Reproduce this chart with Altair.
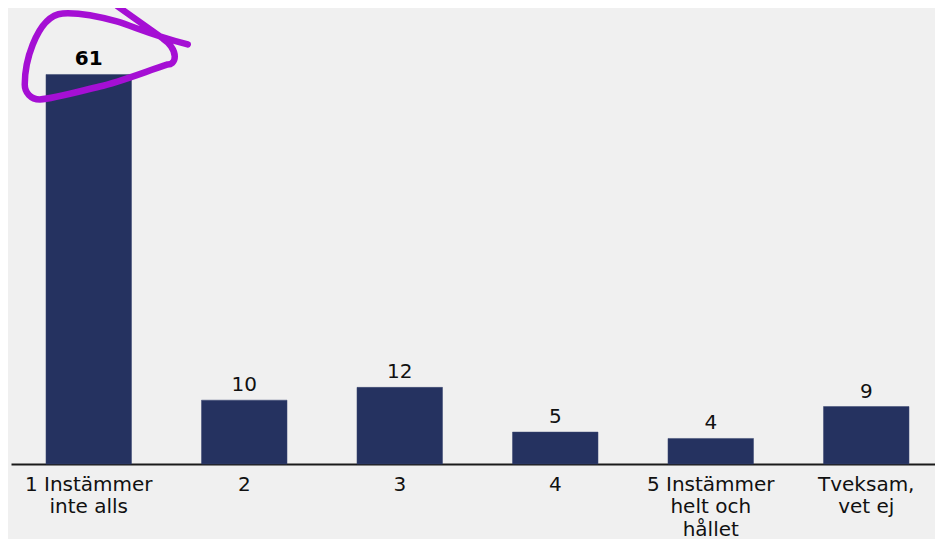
import altair as alt
import pandas as pd

categories = ["1 Instämmer\ninte alls", "2", "3", "4", "5 Instämmer\nhelt och\nhållet", "Tveksam,\nvet ej"]
values = [61, 10, 12, 5, 4, 9]
highlighted = [True, False, False, False, False, False]

df = pd.DataFrame({"category": categories, "value": values, "emph": highlighted})

FONT = "DejaVu Sans"
x = alt.X("category:N", sort=categories,
          scale=alt.Scale(range=[0, 933], paddingInner=0.45, paddingOuter=0.225),
          axis=alt.Axis(title=None, labelAngle=0, ticks=False, grid=False,
                        domainColor="#1a1a1a", domainWidth=2,
                        labelExpr="split(datum.label, '\\n')",
                        labelFont=FONT, labelFontSize=20, labelColor="#111111",
                        labelLineHeight=22.5, labelPadding=10, labelLimit=300))
y = alt.Y("value:Q", scale=alt.Scale(domain=[0, 70], nice=False), axis=None)

base = alt.Chart(df)

bars = base.mark_bar(color="#253260", stroke="#3a4670", strokeWidth=0.5).encode(x=x, y=y)

labels = base.transform_filter("!datum.emph").mark_text(
    baseline="alphabetic", dy=-9, font=FONT, fontSize=20, color="#111111"
).encode(x=x, y=y, text="value:Q")

labels_bold = base.transform_filter("datum.emph").mark_text(
    baseline="alphabetic", dy=-9, font=FONT, fontSize=20, fontWeight="bold", color="#000000"
).encode(x=x, y=y, text="value:Q")

scribble_path = ("M29,-68 L74,-36 C80,-32 86,-25 86,-18 C86,-12 82,-10 79,-10 "
                 "C60,-4 30,8 11,12 C-10,17 -35,24 -49,25 C-58,25 -64,18 -64,10 "
                 "C-64,-5 -60,-20 -56,-30 C-50,-45 -40,-60 -26,-61 "
                 "C-10,-62 10,-58 28,-53 C45,-48 61,-40 99,-30")

scribble = base.transform_filter("datum.emph").mark_point(
    shape=scribble_path, size=4, filled=False, fill="transparent",
    stroke="#a50fd4", strokeWidth=6.5, opacity=1, strokeCap="round", strokeJoin="round"
).encode(x=x, y=y)

chart = (bars + labels + labels_bold + scribble).properties(
    width=924, height=447,
    background="#f0f0f0",
    padding={"left": 3, "top": 9, "right": 0, "bottom": 75},
    autosize=alt.AutoSizeParams(type="none"),
).configure_view(stroke=None)

chart.save("out.html", embed_options={"renderer": "svg", "actions": False})
